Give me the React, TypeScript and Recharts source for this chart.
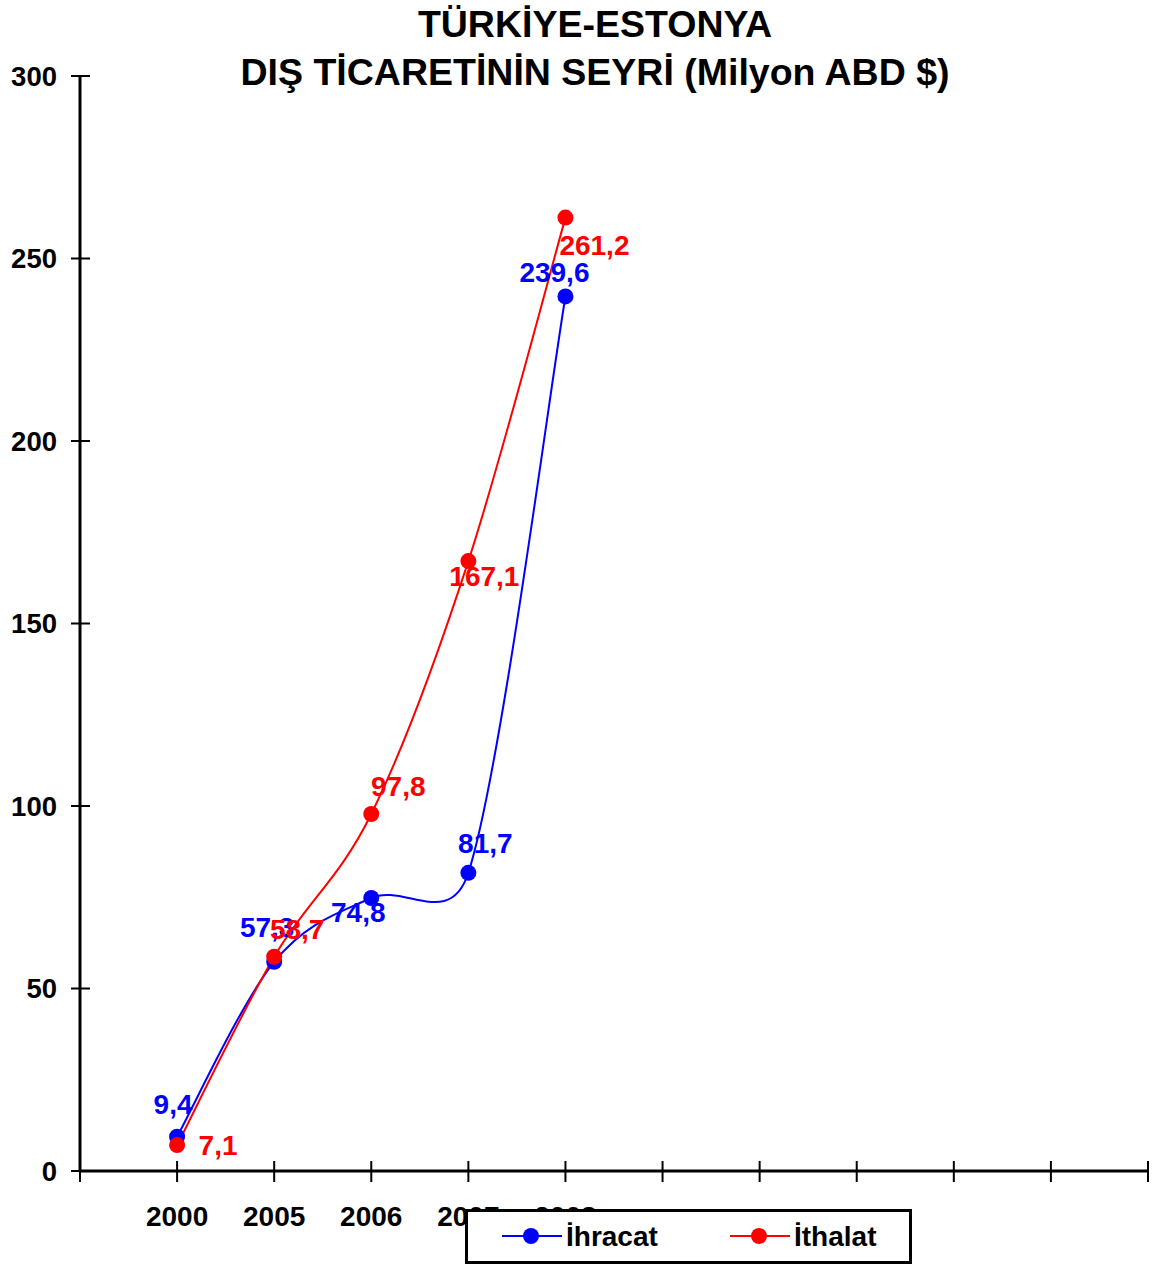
import { LineChart, Line, XAxis, YAxis, LabelList } from "recharts";

const years = ["2000", "2005", "2006", "2007", "2008"];
const ihracat = [9.4, 57.3, 74.8, 81.7, 239.6];
const ithalat = [7.1, 58.7, 97.8, 167.1, 261.2];
const yTicks = [0, 50, 100, 150, 200, 250, 300];
const xTicks = [0, 1, 2, 3, 4, 5, 6, 7, 8, 9, 10, 11];

// label offsets from each point (label centre), styling only
const ihracatLabelOffset = [
  [-4, -32],
  [-7, -34],
  [-13, 15],
  [17, -29],
  [-11, -24],
];
const ithalatLabelOffset = [
  [41, 0],
  [23, -27],
  [27, -28],
  [16, 15],
  [29, 28],
];

const data = years.map((y, i) => ({
  x: i + 1,
  year: y,
  ihracat: ihracat[i],
  ithalat: ithalat[i],
}));

const W = 1153;
const H = 1269;
const PLOT_LEFT = 80;
const PLOT_BOTTOM = 1171;
const FONT = "'Liberation Sans', Arial, sans-serif";

// Excel-like smoothed line: catmull-rom bezier, handles capped by segment length
function excelSmooth(context: any) {
  let pts: number[][] = [];
  const dist = (a: number[], b: number[]) => Math.hypot(b[0] - a[0], b[1] - a[1]);
  const handle = (a: number[], b: number[], seg: number) => {
    let hx = (b[0] - a[0]) / 6;
    let hy = (b[1] - a[1]) / 6;
    const len = Math.hypot(hx, hy);
    const max = seg * 0.6;
    if (len > max && len > 0) {
      hx *= max / len;
      hy *= max / len;
    }
    return [hx, hy];
  };
  return {
    areaStart() {},
    areaEnd() {},
    lineStart() {
      pts = [];
    },
    lineEnd() {
      const n = pts.length;
      if (!n) return;
      context.moveTo(pts[0][0], pts[0][1]);
      for (let i = 0; i < n - 1; i++) {
        const p0 = pts[Math.max(i - 1, 0)];
        const p1 = pts[i];
        const p2 = pts[i + 1];
        const p3 = pts[Math.min(i + 2, n - 1)];
        const d12 = dist(p1, p2);
        const h1 = handle(p0, p2, d12);
        const h2 = handle(p1, p3, d12);
        context.bezierCurveTo(
          p1[0] + h1[0],
          p1[1] + h1[1],
          p2[0] - h2[0],
          p2[1] - h2[1],
          p2[0],
          p2[1]
        );
      }
    },
    point(x: number, y: number) {
      pts.push([+x, +y]);
    },
  };
}

const fmt = (v: number) => v.toFixed(1).replace(".", ",");

function makeLabel(color: string, offsets: number[][]) {
  return (props: any) => {
    const { x, y, value, index } = props;
    const [dx, dy] = offsets[index] || [0, -20];
    return (
      <text
        x={x + dx}
        y={y + dy}
        textAnchor="middle"
        dominantBaseline="central"
        fill={color}
        fontFamily={FONT}
        fontWeight="bold"
        fontSize={28}
      >
        {fmt(value)}
      </text>
    );
  };
}

function YTick(props: any) {
  const y = props.payload.coordinate;
  return (
    <g>
      <line x1={PLOT_LEFT - 9} x2={PLOT_LEFT + 10} y1={y} y2={y} stroke="#000" strokeWidth={2} />
      <text
        x={57}
        y={y}
        textAnchor="end"
        dominantBaseline="central"
        fontFamily={FONT}
        fontWeight="bold"
        fontSize={27.5}
        fill="#000"
      >
        {props.payload.value}
      </text>
    </g>
  );
}

function XTick(props: any) {
  const x = props.payload.coordinate;
  const v = props.payload.value;
  const label = years[v - 1];
  return (
    <g>
      <line x1={x} x2={x} y1={PLOT_BOTTOM - 10} y2={PLOT_BOTTOM + 11} stroke="#000" strokeWidth={2} />
      {label && (
        <text
          x={x}
          y={1216}
          textAnchor="middle"
          dominantBaseline="central"
          fontFamily={FONT}
          fontWeight="bold"
          fontSize={28}
          fill="#000"
        >
          {label}
        </text>
      )}
    </g>
  );
}

function LegendBox() {
  const item = (color: string, text: string, x0: number) => (
    <g>
      <line x1={x0} x2={x0 + 60} y1={24} y2={24} stroke={color} strokeWidth={2} />
      <circle cx={x0 + 29} cy={24} r={8} fill={color} />
      <text
        x={x0 + 64}
        y={24}
        dominantBaseline="central"
        fontFamily={FONT}
        fontWeight="bold"
        fontSize={28}
        fill="#000"
      >
        {text}
      </text>
    </g>
  );
  return (
    <div
      style={{
        position: "absolute",
        left: 465,
        top: 1209,
        width: 441,
        height: 49,
        border: "3px solid #000",
        background: "#fff",
      }}
    >
      <svg width={441} height={49} style={{ display: "block" }}>
        {item("#0000ff", "İhracat", 34)}
        {item("#ff0000", "İthalat", 262)}
      </svg>
    </div>
  );
}

export default function App() {
  return (
    <div style={{ position: "absolute", left: 0, top: 0, width: W, height: H, background: "#fff" }}>
      <LineChart
        width={W}
        height={H}
        data={data}
        margin={{ top: 76, right: 5, bottom: 38, left: 0 }}
      >
        <XAxis
          dataKey="x"
          type="number"
          domain={[0, 11]}
          ticks={xTicks}
          interval={0}
          height={60}
          axisLine={{ stroke: "#000", strokeWidth: 3 }}
          tickLine={false}
          tick={<XTick />}
        />
        <YAxis
          type="number"
          domain={[0, 300]}
          ticks={yTicks}
          interval={0}
          width={80}
          axisLine={{ stroke: "#000", strokeWidth: 3 }}
          tickLine={false}
          tick={<YTick />}
        />
        <Line
          dataKey="ihracat"
          name="İhracat"
          type={excelSmooth as any}
          stroke="#0000ff"
          strokeWidth={2}
          dot={{ r: 8, fill: "#0000ff", stroke: "#0000ff", strokeWidth: 0 }}
          activeDot={false}
          isAnimationActive={false}
        >
          <LabelList dataKey="ihracat" content={makeLabel("#0000ff", ihracatLabelOffset)} />
        </Line>
        <Line
          dataKey="ithalat"
          name="İthalat"
          type={excelSmooth as any}
          stroke="#ff0000"
          strokeWidth={2}
          dot={{ r: 8, fill: "#ff0000", stroke: "#ff0000", strokeWidth: 0 }}
          activeDot={false}
          isAnimationActive={false}
        >
          <LabelList dataKey="ithalat" content={makeLabel("#ff0000", ithalatLabelOffset)} />
        </Line>
      </LineChart>
      <div
        style={{
          position: "absolute",
          left: 0,
          top: 0,
          width: 1190,
          textAlign: "center",
          fontFamily: FONT,
          fontWeight: "bold",
          fontSize: 37.5,
          lineHeight: "48px",
          color: "#000",
        }}
      >
        TÜRKİYE-ESTONYA
        <br />
        DIŞ TİCARETİNİN SEYRİ (Milyon ABD $)
      </div>
      <LegendBox />
    </div>
  );
}
